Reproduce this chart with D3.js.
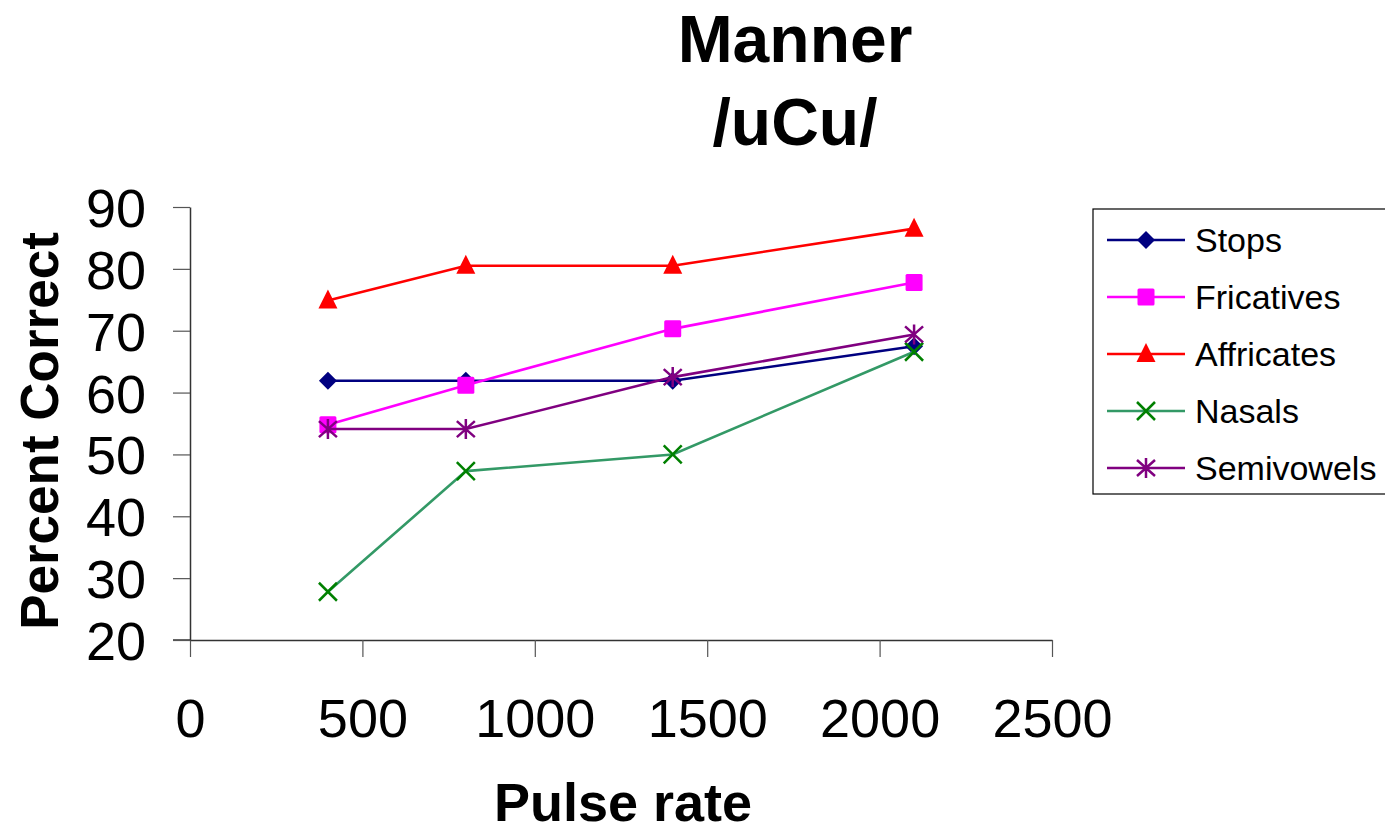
<!DOCTYPE html>
<html><head><meta charset="utf-8">
<script src="https://cdn.jsdelivr.net/npm/d3@7"></script>
<style>body{margin:0;background:#fff}svg{display:block;font-family:"Liberation Sans",Arial,sans-serif}</style>
</head><body><svg id="c" width="1385" height="834"></svg>
<script>
const pulseRates = [400, 800, 1400, 2100];
const seriesNames = ["Stops", "Fricatives", "Affricates", "Nasals", "Semivowels"];
const stops = [61.9, 61.9, 61.9, 67.5];
const fricatives = [54.8, 61.2, 70.3, 77.8];
const affricates = [74.9, 80.5, 80.5, 86.5];
const nasals = [27.8, 47.3, 50.0, 66.6];
const semivowels = [54.1, 54.1, 62.5, 69.4];
const xTicks = [0, 500, 1000, 1500, 2000, 2500];
const yTicks = [20, 30, 40, 50, 60, 70, 80, 90];

const styles = [
  {line:"#000080", mark:"#000080", sym:"diamond"},
  {line:"#FF00FF", mark:"#FF00FF", sym:"square"},
  {line:"#FF0000", mark:"#FF0000", sym:"triangle"},
  {line:"#339966", mark:"#008000", sym:"x"},
  {line:"#800080", mark:"#800080", sym:"star"}
];
const values = [stops, fricatives, affricates, nasals, semivowels];

const svg = d3.select("#c");
const x = d3.scaleLinear().domain([0, 2500]).range([190, 1052]);
const y = d3.scaleLinear().domain([20, 90]).range([640, 207]);

// axes
const xAxis = svg.append("g").attr("transform","translate(0,640)")
  .call(d3.axisBottom(x).tickValues(xTicks).tickFormat(d3.format("d")).tickSize(17).tickSizeOuter(0).tickPadding(42));
xAxis.select(".domain").attr("stroke","#333").attr("stroke-width",1.5);
xAxis.selectAll(".tick line").attr("stroke","#555").attr("stroke-width",1.2);
xAxis.selectAll(".tick text").attr("font-size",54).attr("fill","#000").attr("font-family","Liberation Sans, Arial, sans-serif");
svg.append("line").attr("x1",173).attr("x2",190).attr("y1",640).attr("y2",640).attr("stroke","#333").attr("stroke-width",1.5);

const yAxis = svg.append("g").attr("transform","translate(190,0)")
  .call(d3.axisLeft(y).tickValues(yTicks).tickSize(17).tickSizeOuter(0).tickPadding(27));
yAxis.select(".domain").attr("stroke","#333").attr("stroke-width",1.5);
yAxis.selectAll(".tick line").attr("stroke","#555").attr("stroke-width",1.2);
yAxis.selectAll(".tick text").attr("font-size",54).attr("fill","#000").attr("dy","0.36em").attr("font-family","Liberation Sans, Arial, sans-serif");

// titles
svg.append("text").attr("x",795).attr("y",62).attr("text-anchor","middle").attr("font-weight","bold").attr("font-size",66).text("Manner");
svg.append("text").attr("x",795).attr("y",145).attr("text-anchor","middle").attr("font-weight","bold").attr("font-size",66).text("/uCu/");
svg.append("text").attr("x",623).attr("y",821).attr("text-anchor","middle").attr("font-weight","bold").attr("font-size",54).text("Pulse rate");
svg.append("text").attr("transform","translate(58,431) rotate(-90)").attr("text-anchor","middle").attr("font-weight","bold").attr("font-size",53).text("Percent Correct");

function marker(g, sym, color, cx, cy){
  if(sym==="diamond"){
    g.append("path").attr("d",`M${cx},${cy-9}L${cx+9},${cy}L${cx},${cy+9}L${cx-9},${cy}Z`).attr("fill",color);
  } else if(sym==="square"){
    g.append("rect").attr("x",cx-8.5).attr("y",cy-8.5).attr("width",17).attr("height",17).attr("rx",1.5).attr("fill",color);
  } else if(sym==="triangle"){
    g.append("path").attr("d",`M${cx},${cy-11}L${cx+9.5},${cy+8}L${cx-9.5},${cy+8}Z`).attr("fill",color);
  } else if(sym==="x"){
    g.append("path").attr("d",`M${cx-9},${cy-9}L${cx+9},${cy+9}M${cx-9},${cy+9}L${cx+9},${cy-9}`).attr("stroke",color).attr("stroke-width",2.5).attr("fill","none");
  } else {
    g.append("path").attr("d",`M${cx-9},${cy-8}L${cx+9},${cy+8}M${cx-9},${cy+8}L${cx+9},${cy-8}M${cx},${cy-10}L${cx},${cy+10}`).attr("stroke",color).attr("stroke-width",2.5).attr("fill","none");
  }
}

const line = d3.line().x((d,i)=>x(pulseRates[i])).y(d=>y(d));
values.forEach((vals, si)=>{
  const st = styles[si];
  const g = svg.append("g");
  g.append("path").datum(vals).attr("d", line).attr("fill","none").attr("stroke", st.line).attr("stroke-width",2.6);
  vals.forEach((v,i)=>marker(g, st.sym, st.mark, x(pulseRates[i]), y(v)));
});

// legend
const lg = svg.append("g");
lg.append("rect").attr("x",1093).attr("y",209).attr("width",300).attr("height",285).attr("fill","#fff").attr("stroke","#000").attr("stroke-width",1.2);
const rowY = [240, 297, 354, 411, 468];
seriesNames.forEach((n,i)=>{
  const st = styles[i];
  lg.append("line").attr("x1",1107).attr("x2",1185).attr("y1",rowY[i]).attr("y2",rowY[i]).attr("stroke",st.line).attr("stroke-width",2.6);
  marker(lg, st.sym, st.mark, 1146, rowY[i]);
  lg.append("text").attr("x",1195).attr("y",rowY[i]).attr("dy","0.36em").attr("font-size",34).text(n);
});
</script></body></html>
